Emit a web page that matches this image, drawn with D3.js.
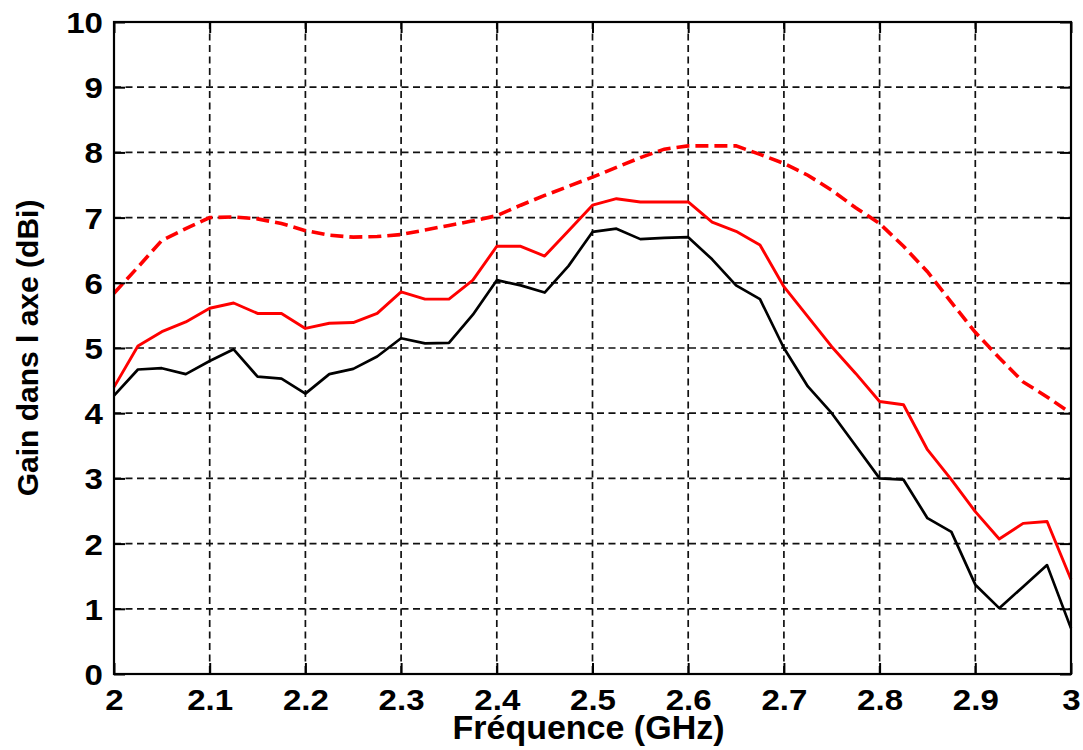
<!DOCTYPE html>
<html>
<head>
<meta charset="utf-8">
<script src="https://cdn.jsdelivr.net/npm/d3@7"></script>
<style>
  html, body { margin: 0; padding: 0; background: #fff; }
  svg text { font-family: "Liberation Sans", Arial, sans-serif; font-weight: bold; fill: #000; }
</style>
</head>
<body>
<svg id="chart" width="1083" height="750"></svg>
<script>
// Frequency samples (GHz)
const freqs = d3.range(41).map(i => +(2 + i * 0.025).toFixed(3));

// Gain in the antenna axis (dBi)
const gainBlack = [4.27, 4.67, 4.69, 4.60, 4.80, 4.98, 4.56, 4.53, 4.30, 4.60,
                   4.68, 4.87, 5.15, 5.07, 5.08, 5.51, 6.04, 5.96, 5.85, 6.26,
                   6.78, 6.83, 6.67, 6.69, 6.70, 6.36, 5.96, 5.75, 5.00, 4.41,
                   4.00, 3.50, 3.00, 2.98, 2.39, 2.18, 1.37, 1.01, 1.34, 1.67, 0.70];
const gainRed = [4.40, 5.03, 5.25, 5.40, 5.61, 5.69, 5.53, 5.53, 5.30, 5.38,
                 5.39, 5.53, 5.86, 5.75, 5.75, 6.04, 6.56, 6.56, 6.41, 6.80,
                 7.19, 7.29, 7.24, 7.24, 7.24, 6.93, 6.79, 6.58, 5.94, 5.48,
                 5.02, 4.61, 4.18, 4.13, 3.44, 2.98, 2.49, 2.07, 2.31, 2.34, 1.45];
const gainRedDashed = [5.84, 6.24, 6.65, 6.83, 7.00, 7.01, 6.98, 6.91, 6.80, 6.73,
                       6.70, 6.71, 6.74, 6.81, 6.88, 6.95, 7.03, 7.19, 7.34, 7.48,
                       7.62, 7.77, 7.92, 8.05, 8.10, 8.10, 8.10, 7.97, 7.83, 7.65,
                       7.42, 7.15, 6.91, 6.56, 6.17, 5.70, 5.24, 4.85, 4.48, 4.25, 4.00];

const xTicks = [2, 2.1, 2.2, 2.3, 2.4, 2.5, 2.6, 2.7, 2.8, 2.9, 3];
const yTicks = [0, 1, 2, 3, 4, 5, 6, 7, 8, 9, 10];
const xTitle = "Fréquence (GHz)";
const yTitle = "Gain dans l axe (dBi)";

const svg = d3.select("#chart");
const plotL = 114, plotR = 1071, plotT = 22, plotB = 674;
const W = plotR - plotL, H = plotB - plotT;

const x = d3.scaleLinear().domain([2, 3]).range([plotL, plotR]);
const y = d3.scaleLinear().domain([0, 10]).range([plotB, plotT]);

// dashed grid
const grid = svg.append("g").attr("stroke", "#111").attr("stroke-width", 1.7)
  .attr("stroke-dasharray", "7,4.5");
grid.selectAll("line.vx").data(xTicks.slice(1, -1)).join("line")
  .attr("x1", d => x(d)).attr("x2", d => x(d)).attr("y1", plotT).attr("y2", plotB);
grid.selectAll("line.hy").data(yTicks.slice(1, -1)).join("line")
  .attr("y1", d => y(d)).attr("y2", d => y(d)).attr("x1", plotL).attr("x2", plotR);

// series
const line = vals => d3.line().x((d, i) => x(freqs[i])).y(d => y(d))(vals);
svg.append("path").attr("d", line(gainRedDashed)).attr("fill", "none")
  .attr("stroke", "#ff0000").attr("stroke-width", 3.6).attr("stroke-dasharray", "13,6");
svg.append("path").attr("d", line(gainRed)).attr("fill", "none")
  .attr("stroke", "#ff0000").attr("stroke-width", 2.9).attr("stroke-linejoin", "round");
svg.append("path").attr("d", line(gainBlack)).attr("fill", "none")
  .attr("stroke", "#000").attr("stroke-width", 2.7).attr("stroke-linejoin", "round");

// axes with inward ticks on all four sides
const tl = 11;
const axB = svg.append("g").attr("transform", `translate(0,${plotB})`)
  .call(d3.axisBottom(x).tickValues(xTicks).tickSize(-tl).tickFormat(d3.format("~g")));
const axT = svg.append("g").attr("transform", `translate(0,${plotT})`)
  .call(d3.axisTop(x).tickValues(xTicks).tickSize(-tl).tickFormat(""));
const axL = svg.append("g").attr("transform", `translate(${plotL},0)`)
  .call(d3.axisLeft(y).tickValues(yTicks).tickSize(-tl).tickFormat(d3.format("d")));
const axR = svg.append("g").attr("transform", `translate(${plotR},0)`)
  .call(d3.axisRight(y).tickValues(yTicks).tickSize(-tl).tickFormat(""));
[axB, axT, axL, axR].forEach(g => {
  g.select(".domain").remove();
  g.selectAll(".tick line").attr("stroke", "#000").attr("stroke-width", 2);
});
axB.selectAll(".tick text").attr("font-size", 29).attr("dy", 0).attr("y", 36);
axL.selectAll(".tick text").attr("font-size", 29).attr("x", -11).attr("dy", "0.36em");
// tick labels are drawn slightly wide
svg.selectAll(".tick text")
  .style("font-family", "Liberation Sans, Arial, sans-serif").style("font-weight", "bold")
  .each(function () {
    const w = this.getComputedTextLength();
    if (w > 0) d3.select(this).attr("textLength", w * 1.14).attr("lengthAdjust", "spacingAndGlyphs");
  });

// frame
svg.append("rect").attr("x", plotL).attr("y", plotT).attr("width", W).attr("height", H)
  .attr("fill", "none").attr("stroke", "#000").attr("stroke-width", 2.2);

// axis titles
svg.append("text").attr("x", (plotL + plotR) / 2 - 4).attr("y", 739)
  .attr("text-anchor", "middle").attr("font-size", 34).text(xTitle);
svg.append("text").attr("transform", `translate(38,${(plotT + plotB) / 2}) rotate(-90)`)
  .attr("text-anchor", "middle").attr("font-size", 30).text(yTitle);
</script>
</body>
</html>
